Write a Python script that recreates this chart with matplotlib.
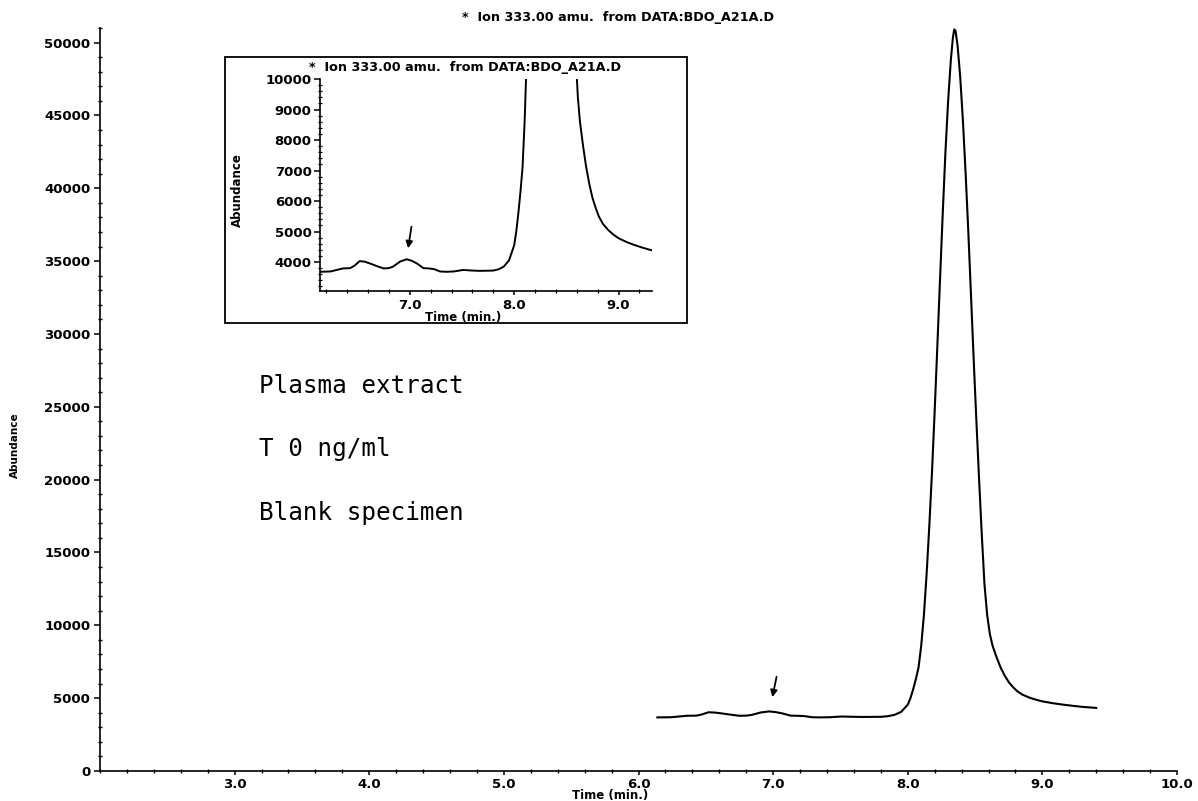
import matplotlib
matplotlib.use("Agg")
import matplotlib.pyplot as plt
from matplotlib.patches import Rectangle
from matplotlib.ticker import MultipleLocator

# ---- data ----
time_min = [6.14, 6.24, 6.30, 6.36, 6.43, 6.47, 6.52, 6.57, 6.62, 6.69, 6.75, 6.80,
            6.84, 6.91, 6.97, 7.02, 7.07, 7.13, 7.18, 7.23, 7.29, 7.35, 7.42, 7.51,
            7.60, 7.67, 7.80, 7.85, 7.90, 7.95, 8.00, 8.02, 8.04, 8.06, 8.08, 8.10,
            8.12, 8.14, 8.16, 8.18, 8.20, 8.22, 8.24, 8.26, 8.28, 8.30, 8.32, 8.335,
            8.345, 8.355, 8.37, 8.39, 8.41, 8.43, 8.45, 8.47, 8.49, 8.51, 8.53, 8.55,
            8.57, 8.59, 8.61, 8.63, 8.66, 8.69, 8.72, 8.75, 8.78, 8.81, 8.85, 8.90,
            8.95, 9.00, 9.08, 9.15, 9.22, 9.30, 9.40]
abundance = [3680, 3690, 3740, 3790, 3800, 3880, 4030, 4010, 3950, 3860, 3790, 3800,
             3850, 4020, 4090, 4040, 3950, 3800, 3790, 3770, 3690, 3680, 3690, 3740,
             3720, 3710, 3720, 3760, 3850, 4050, 4550, 5000, 5600, 6300, 7100, 8600,
             10700, 13500, 16800, 20500, 24700, 29200, 33800, 38300, 42500, 46000, 48800, 50300,
             50900, 50800, 49800, 47600, 44600, 41000, 37000, 32600, 28200, 24000, 20000, 16200,
             12800, 10700, 9400, 8600, 7800, 7100, 6550, 6100, 5780, 5500, 5250, 5050,
             4900, 4780, 4650, 4560, 4480, 4400, 4330]

title_text = "*  Ion 333.00 amu.  from DATA:BDO_A21A.D"
main_xticks = [3.0, 4.0, 5.0, 6.0, 7.0, 8.0, 9.0, 10.0]
main_yticks = [0, 5000, 10000, 15000, 20000, 25000, 30000, 35000, 40000, 45000, 50000]
inset_xticks = [7.0, 8.0, 9.0]
inset_yticks = [4000, 5000, 6000, 7000, 8000, 9000, 10000]
notes = ["Plasma extract", "T 0 ng/ml", "Blank specimen"]
# arrow marking the small peak (tail, head) in data units
main_arrow = [(7.03, 6660), (6.99, 4880)]
inset_arrow = [(7.02, 5250), (6.98, 4360)]

W, H = 1198, 801
fig = plt.figure(figsize=(W / 100, H / 100), dpi=100)
fig.patch.set_facecolor("white")

def fx(px):
    return px / W

def fy(py):
    return 1 - py / H

tick_font = dict(family="DejaVu Sans", weight="bold", size=9.5)
small_font = dict(family="DejaVu Sans", weight="bold", size=8.5)
title_font = dict(family="DejaVu Sans", weight="bold", size=9.2)

# ---- main axes ----
ax = fig.add_axes([fx(100), fy(771), fx(1177) - fx(100), fy(28) - fy(771)])
ax.plot(time_min, abundance, color="black", lw=1.5, solid_joinstyle="round")
ax.set_xlim(2.0, 10.0)
ax.set_ylim(0, 51000)
for s in ["top", "right"]:
    ax.spines[s].set_visible(False)
for s in ["left", "bottom"]:
    ax.spines[s].set_linewidth(1.2)
ax.set_xticks(main_xticks)
ax.set_xticklabels([f"{v:.1f}" for v in main_xticks], fontdict=tick_font)
ax.set_yticks(main_yticks)
ax.set_yticklabels([str(v) for v in main_yticks], fontdict=tick_font)
ax.xaxis.set_minor_locator(MultipleLocator(0.2))
ax.yaxis.set_minor_locator(MultipleLocator(1000))
ax.tick_params(which="major", direction="out", length=4, width=1.1, pad=3)
ax.tick_params(which="minor", direction="inout", length=3, width=1.0)
ax.tick_params(axis="x", which="major", length=3, pad=2)

fig.text(fx(610), fy(796), "Time (min.)", ha="center", va="center", **small_font)
fig.text(fx(15), fy(445), "Abundance", ha="center", va="center", rotation=90,
         family="DejaVu Sans", weight="bold", size=7.5)
fig.text(fx(618), fy(18), title_text, ha="center", va="center", **title_font)

ax.annotate("", xy=main_arrow[1], xytext=main_arrow[0],
            arrowprops=dict(arrowstyle="-|>", color="black", lw=1.3, mutation_scale=10))

for txt, py in zip(notes, [393, 456, 520]):
    fig.text(fx(259), fy(py), txt, ha="left", va="baseline",
             family="DejaVu Sans Mono", size=17.5)

# ---- inset frame ----
frame = Rectangle((fx(225), fy(323)), fx(687) - fx(225), fy(57) - fy(323),
                  transform=fig.transFigure, facecolor="white", edgecolor="black",
                  lw=1.3, zorder=5)
fig.patches.append(frame)

# ---- inset axes ----
ia = fig.add_axes([fx(320), fy(291), fx(652) - fx(320), fy(79) - fy(291)])
ia.set_zorder(10)
ia.patch.set_alpha(0)
ia.plot(time_min, abundance, color="black", lw=1.4, solid_joinstyle="round")
ia.set_xlim(6.14, 9.32)
ia.set_ylim(3050, 10000)
for s in ["top", "right"]:
    ia.spines[s].set_visible(False)
for s in ["left", "bottom"]:
    ia.spines[s].set_linewidth(1.2)
ia.set_xticks(inset_xticks)
ia.set_xticklabels([f"{v:.1f}" for v in inset_xticks], fontdict=tick_font)
ia.set_yticks(inset_yticks)
ia.set_yticklabels([str(v) for v in inset_yticks], fontdict=tick_font)
ia.xaxis.set_minor_locator(MultipleLocator(0.2))
ia.yaxis.set_minor_locator(MultipleLocator(200))
ia.tick_params(which="major", direction="out", length=4, width=1.1, pad=2)
ia.tick_params(which="minor", direction="inout", length=2.5, width=0.9)
ia.tick_params(axis="x", which="major", length=3, pad=3)
ia.annotate("", xy=inset_arrow[1], xytext=inset_arrow[0],
            arrowprops=dict(arrowstyle="-|>", color="black", lw=1.3, mutation_scale=10))

fig.text(fx(463), fy(317), "Time (min.)", ha="center", va="center", zorder=11, **small_font)
fig.text(fx(237), fy(190), "Abundance", ha="center", va="center", rotation=90,
         zorder=11, **small_font)
fig.text(fx(465), fy(68), title_text, ha="center", va="center", zorder=11, **title_font)

fig.savefig("out.png", dpi=100)
